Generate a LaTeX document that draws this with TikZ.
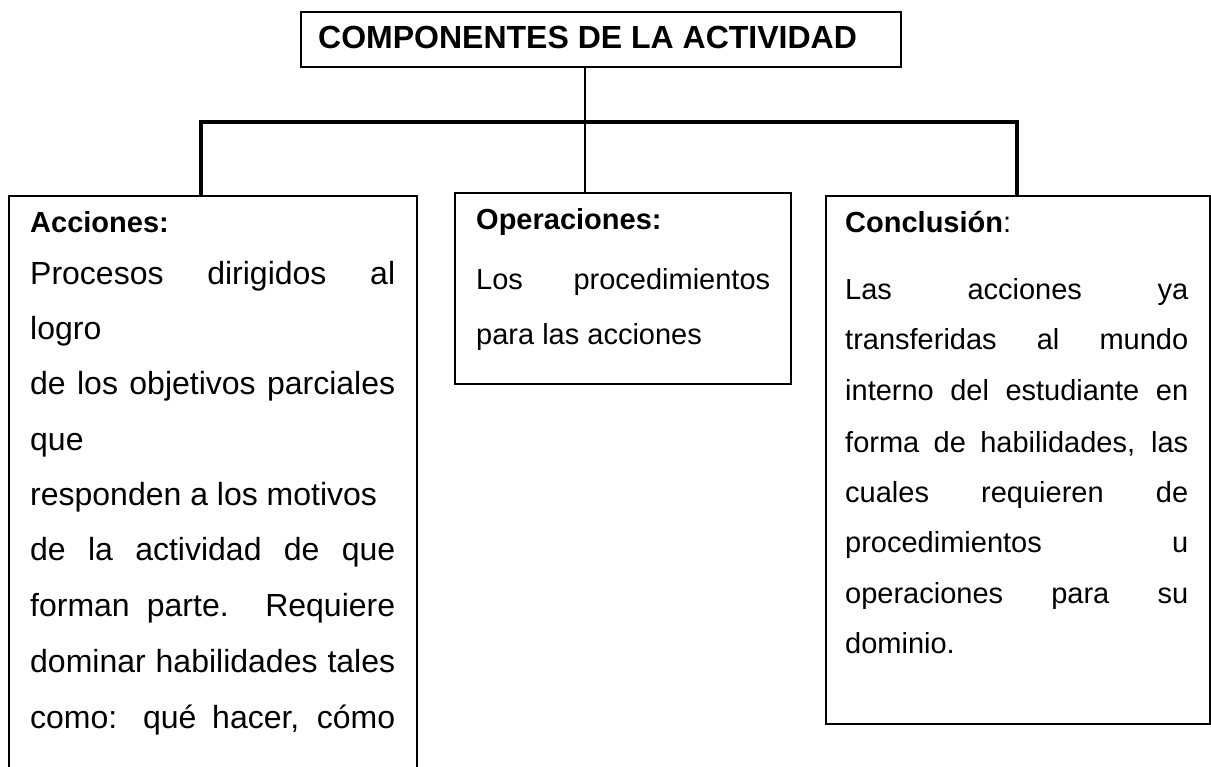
\documentclass[tikz,border=0pt]{standalone}
\usepackage{fontspec}
\setmainfont{Liberation Sans}
\newcommand\jl[2]{\makebox[#1][s]{#2}}
\begin{document}
\begin{tikzpicture}[x=1pt,y=-1pt,
  box/.style={draw, line width=2pt, inner sep=0pt, anchor=north west},
  tx/.style={anchor=base west, inner sep=0pt},
  hdr/.style={font=\fontsize{29}{29}\selectfont\bfseries},
  bodyL/.style={font=\fontsize{32}{32}\selectfont},
  bodyS/.style={font=\fontsize{29}{29}\selectfont},
  bar/.style={line width=4.5pt},
  thinln/.style={line width=1.5pt}]
\useasboundingbox (0,0) rectangle (1211,767);
\clip (0,0) rectangle (1211,767);
\fill[white] (0,0) rectangle (1211,767);
% boxes
\node[box, minimum width=600pt, minimum height=55pt] (top) at (300,11) {};
\node[box, minimum width=408pt, minimum height=620pt] (left) at (8,195) {};
\node[box, minimum width=336pt, minimum height=191pt] (mid) at (454,192) {};
\node[box, minimum width=384pt, minimum height=528pt] (right) at (825,195) {};
% title
\node[tx, font=\fontsize{32}{32}\selectfont\bfseries] (title) at (318,49) {COMPONENTES DE LA ACTIVIDAD};
% connectors
\coordinate (cx) at (585,0);
\coordinate (bl) at (201,122);
\coordinate (br) at (1017,122);
\draw[thinln] (cx |- top.south) -- (cx |- mid.north);
\draw[bar] (bl |- left.north) -- (bl) -- (br) -- (br |- right.north);
% left text
\node[tx, hdr] (la) at (30,233) {Acciones:};
\node[tx, bodyL] (l1) at (30,285) {\jl{365pt}{Procesos dirigidos al}};
\node[tx, bodyL] (l2) at (30,340) {logro};
\node[tx, bodyL] (l3) at (30,395) {\jl{365pt}{de los objetivos parciales}};
\node[tx, bodyL] (l4) at (30,450) {que};
\node[tx, bodyL] (l5) at (30,505) {responden a los motivos};
\node[tx, bodyL] (l6) at (30,560) {\jl{365pt}{de la actividad de que}};
\node[tx, bodyL] (l7) at (30,616) {\jl{365pt}{forman parte. Requiere}};
\node[tx, bodyL] (l8) at (30,672) {\jl{365pt}{dominar habilidades tales}};
\node[tx, bodyL] (l9) at (30,728) {\jl{365pt}{como: qué hacer, cómo}};
% middle text
\node[tx, hdr] (ma) at (476,230) {Operaciones:};
\node[tx, bodyS] (m1) at (476,290) {\jl{294pt}{Los procedimientos}};
\node[tx, bodyS] (m2) at (476,345) {para las acciones};
% right text
\node[tx, bodyS] (ra) at (845,233) {\textbf{Conclusión}:};
\node[tx, bodyS] (r1) at (845,300) {\jl{343pt}{Las acciones ya}};
\node[tx, bodyS] (r2) at (845,350) {\jl{343pt}{transferidas al mundo}};
\node[tx, bodyS] (r3) at (845,401) {\jl{343pt}{interno del estudiante en}};
\node[tx, bodyS] (r4) at (845,452) {\jl{343pt}{forma de habilidades, las}};
\node[tx, bodyS] (r5) at (845,502) {\jl{343pt}{cuales requieren de}};
\node[tx, bodyS] (r6) at (845,552) {\jl{343pt}{procedimientos u}};
\node[tx, bodyS] (r7) at (845,603) {\jl{343pt}{operaciones para su}};
\node[tx, bodyS] (r8) at (845,653) {dominio.};
\end{tikzpicture}
\end{document}
